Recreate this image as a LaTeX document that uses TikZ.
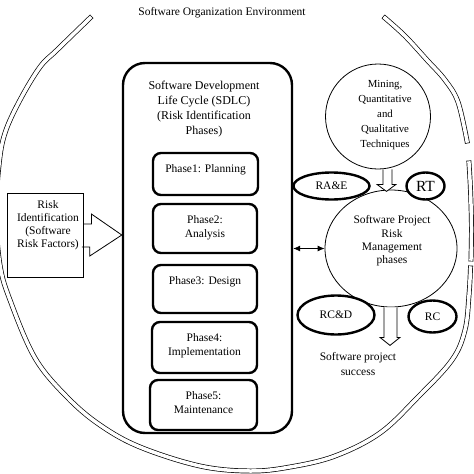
\documentclass[tikz,border=0pt]{standalone}
\usepackage{fontspec}
\setmainfont{Liberation Serif}
\usetikzlibrary{shapes.geometric,arrows.meta}

\begin{document}
\begin{tikzpicture}[x=1pt,y=-1pt,
    every node/.style={font=\fontsize{11.5}{14}\selectfont,align=center,inner sep=0pt},
    phasebox/.style={draw,line width=2.4pt,rounded corners=8pt},
    oval/.style={draw,ellipse,line width=2.4pt,fill=white},
    thinline/.style={line width=0.8pt},
    envline/.style={double,double distance=3.5pt,line width=0.7pt,line cap=rect}]
    \useasboundingbox (0,0) rectangle (474,474);
    % outer environment arc, in three pieces
    \draw[envline] plot[smooth,tension=0.6] coordinates {(90,18) (57,50) (40,67) (20,100) (5,133) (-1,165) (-4,215) (0,265) (10,300) (35,358) (67,397) (100,425) (140,447) (200,466) (250,471) (290,467) (335,456) (380,433) (418,397) (452,360) (465,330) (469,295) (470.5,268)};
    \draw[envline] plot[smooth,tension=0.6] coordinates {(471,259) (471.5,227) (470.5,190) (469,163)};
    \draw[envline] plot[smooth,tension=0.6] coordinates {(467,141) (458,102) (445,80) (427,60) (405,36) (385,18)};
    \node (env) at (222,13) {Software Organization Environment};
    % SDLC and its phases
    \node[draw,line width=2.4pt,rounded corners=22pt,minimum width=169pt,minimum height=370pt] (sdlc) at (207.5,248) {};
    \node[anchor=north,font=\fontsize{12}{15}\selectfont] (sdlctitle) at (204,80.5) {Software Development\\Life Cycle (SDLC)\\(Risk Identification\\Phases)};
    \foreach \n/\xa/\xb/\ya/\yb/\txt in {1/153/258/153/195/{Phase1: Planning},
        2/153/257/204/253/{Phase2:\\Analysis},
        3/153/257/265/313/{Phase3: Design},
        4/152/257/322/373/{Phase4:\\Implementation},
        5/150/257/380/430/{Phase5:\\Maintenance}}
    {
        \node[phasebox,minimum width=\xb-\xa,minimum height=\yb-\ya] (phase\n) at ({(\xa+\xb)/2},{(\ya+\yb)/2}) {};
        \node[anchor=north] (ptext\n) at ([yshift=-13pt]phase\n.north) {\txt};
    }
    % risk identification
    \node[draw,thinline,minimum width=76pt,minimum height=84pt] (risk) at (45,235) {};
    \node[anchor=north,font=\fontsize{11.5}{13}\selectfont] (risktext) at (48,200.5) {Risk\\Identification\\(Software\\Risk Factors)};
    \draw[thinline] (risk.east) ++(0,-11) -- ++(8,0) -- ++(0,-10) -- (sdlc.west |- risk.east) -- ++(-32,21) -- ++(0,-9) -- ++(-8,0);
    % risk management side
    \node[draw,thinline,circle,minimum size=105pt] (mining) at (378,116.5) {};
    \node[anchor=north,font=\fontsize{10.8}{14.8}\selectfont] (miningtext) at (385,80.5) {Mining,\\Quantitative\\and\\Qualitative\\Techniques};
    \node[draw,thinline,ellipse,minimum width=132pt,minimum height=117pt] (sprm) at (391,248.5) {};
    \node[anchor=north,font=\fontsize{11.5}{13.3}\selectfont] (sprmtext) at (392,215.5) {Software Project\\Risk\\Management\\phases};
    \node[oval,minimum width=76pt,minimum height=27pt] (rae) at (331.5,186) {RA\&E};
    \node[oval,minimum width=38pt,minimum height=27pt,font=\fontsize{15.5}{18}\selectfont] (rt) at (425.5,186) {RT};
    \node[oval,minimum width=77pt,minimum height=39pt] (rcd) at (336,315) {RC\&D};
    \node[oval,minimum width=48pt,minimum height=32pt] (rc) at (432.5,316.5) {RC};
    \draw[thinline,fill=white] (mining.south) ++(5,0) -- ++(0,15) -- ++(-6,0) -- ++(9.5,7) -- ++(9.5,-7) -- ++(-4,0) -- ++(0,-15);
    \draw[thinline,fill=white] (sprm.south) ++(-7,0) -- ++(0,30) -- ++(-4,0) -- ++(10,8) -- ++(10,-8) -- ++(-3,0) -- ++(0,-30);
    \draw[thinline,{Latex[length=7pt,width=6pt]}-{Latex[length=7pt,width=6pt]}] (sdlc.east |- sprm.west) -- (sprm.west);
    \node[anchor=north,font=\fontsize{11.5}{15}\selectfont] (success) at (358,352.5) {Software project\\success};
\end{tikzpicture}
\end{document}
